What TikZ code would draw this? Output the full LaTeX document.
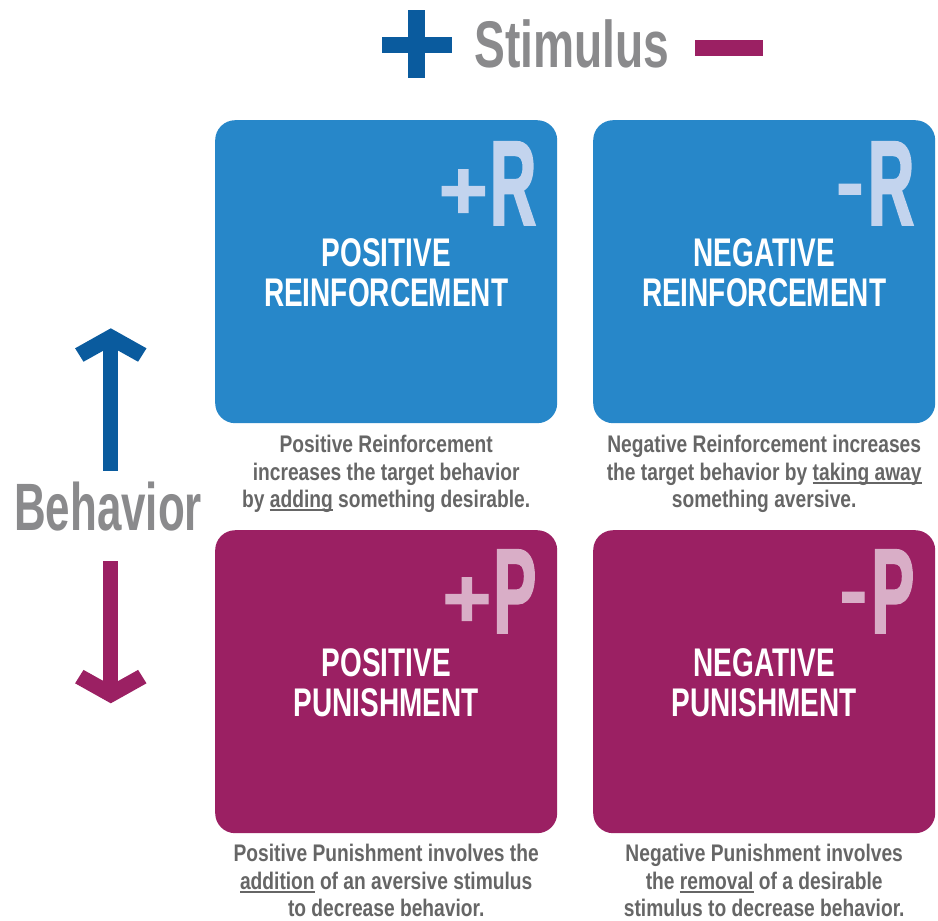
\documentclass[tikz,border=0pt]{standalone}
\usepackage{fontspec}
\usetikzlibrary{calc}
\setmainfont{Liberation Sans}
% condensed cuts of one sans family
\newfontfamily\headfont{Liberation Sans}[FakeStretch=0.70]
\newfontfamily\sidefont{Liberation Sans}[FakeStretch=0.655]
\newfontfamily\titlefont{Liberation Sans}[FakeStretch=0.70]
\newfontfamily\tagfont{Liberation Sans}[FakeStretch=0.53,FakeBold=1.5]
\newfontfamily\plusfont{Liberation Sans}[FakeBold=1.5]
\newfontfamily\notefont{Liberation Sans}[FakeStretch=0.80]

\definecolor{boxblue}{HTML}{2787C9}
\definecolor{boxplum}{HTML}{9B2063}
\definecolor{deepblue}{HTML}{0A5B9E}
\definecolor{headgray}{HTML}{8A8A8C}
\definecolor{notegray}{HTML}{666666}
\definecolor{tagblue}{HTML}{C3D4EE}
\definecolor{tagplum}{HTML}{D9AEC7}

% underline drawn as a rule just below the baseline
\newcommand\undl[1]{\setbox0=\hbox{#1}\rlap{\raisebox{-3.5pt}{\rule{\wd0}{1.6pt}}}\box0\relax}
% the sign in front of a quadrant letter
\newcommand\tagsign[2]{\raisebox{#1}{\plusfont\bfseries\fontsize{84}{84}\selectfont#2}}

\begin{document}
\begin{tikzpicture}[x=1pt,y=-1pt,
  quad/.style={rounded corners=20pt, inner sep=0pt, minimum width=342pt,
               minimum height=303pt, anchor=north west},
  heading/.style={inner sep=0pt, text=headgray, anchor=base west,
               font={\headfont\bfseries\fontsize{66}{66}\selectfont}},
  quadtitle/.style={inner sep=0pt, anchor=north, text=white, align=center,
               font={\titlefont\bfseries\fontsize{40}{40}\selectfont}},
  quadtag/.style={inner sep=0pt, anchor=base east,
               font={\tagfont\bfseries\fontsize{121}{121}\selectfont}},
  note/.style={inner sep=0pt, anchor=north, text=notegray, align=center,
               font={\notefont\bfseries\fontsize{24}{27.3}\selectfont}}]
\useasboundingbox (0,0) rectangle (938,921);
\fill[white] (0,0) rectangle (938,921);

% ---- stimulus axis ----
\fill[deepblue] (408,10) rectangle (425,78);
\fill[deepblue] (382,37) rectangle (452,53);
\node[heading] (stim) at (474,67) {Stimulus};
\fill[boxplum] (695,40) rectangle (763,56);

% ---- behaviour axis ----
\node[heading, font={\sidefont\bfseries\fontsize{67}{67}\selectfont}] (behav) at (14,530) {Behavior};
% up arrow
\fill[deepblue] (103.3,345) rectangle (118.3,470.7);
\fill[deepblue] (110.8,328.3) -- (146.5,348.3) -- (138.1,361.7) -- (110.8,346.5)
  -- (83.5,361.7) -- (75.1,348.3) -- cycle;
% down arrow
\fill[boxplum] (103.3,561) rectangle (118.3,686);
\fill[boxplum] (110.8,703.3) -- (146.5,683.3) -- (138.1,669.9) -- (110.8,685.1)
  -- (83.5,669.9) -- (75.1,683.3) -- cycle;

% ---- the four quadrants ----
\node[quad, fill=boxblue] (pr) at (215,120) {};
\node[quad, fill=boxblue] (nr) at (593,120) {};
\node[quad, fill=boxplum] (pp) at (215,530) {};
\node[quad, fill=boxplum] (np) at (593,530) {};

\node[quadtitle] (prt) at ($(pr.north)+(0,118)$) {POSITIVE\\REINFORCEMENT};
\node[quadtitle] (nrt) at ($(nr.north)+(0,118)$) {NEGATIVE\\REINFORCEMENT};
\node[quadtitle] (ppt) at ($(pp.north)+(0,118)$) {POSITIVE\\PUNISHMENT};
\node[quadtitle] (npt) at ($(np.north)+(0,118)$) {NEGATIVE\\PUNISHMENT};

\node[quadtag, text=tagblue] (prtag) at ($(pr.north east)+(-21,105)$)
  {\tagsign{6pt}{+}\hspace{2pt}R};
\node[quadtag, text=tagblue] (nrtag) at ($(nr.north east)+(-21,105)$)
  {\tagsign{14pt}{-}\hspace{4pt}R};
\node[quadtag, text=tagplum] (pptag) at ($(pp.north east)+(-21,103)$)
  {\tagsign{6pt}{+}\hspace{2pt}P};
\node[quadtag, text=tagplum] (nptag) at ($(np.north east)+(-21,103)$)
  {\tagsign{14pt}{-}\hspace{4pt}P};

% ---- explanations ----
\node[note] (prn) at ($(pr.south)+(0,12)$)
  {Positive Reinforcement\\increases the target behavior\\by \undl{adding} something desirable.};
\node[note] (nrn) at ($(nr.south)+(0,12)$)
  {Negative Reinforcement increases\\the target behavior by \undl{taking away}\\something aversive.};
\node[note] (ppn) at ($(pp.south)+(0,11)$)
  {Positive Punishment involves the\\\undl{addition} of an aversive stimulus\\to decrease behavior.};
\node[note] (npn) at ($(np.south)+(0,11)$)
  {Negative Punishment involves\\the \undl{removal} of a desirable\\stimulus to decrease behavior.};
\end{tikzpicture}
\end{document}
